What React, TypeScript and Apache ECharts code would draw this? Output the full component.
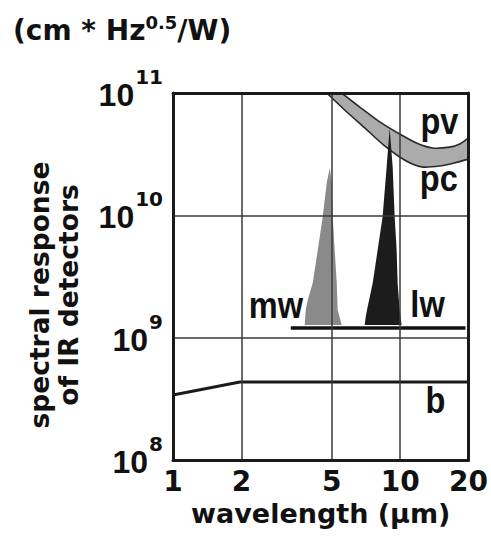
import { useEffect, useRef } from "react";
import * as echarts from "echarts";

// ---- data (wavelength in µm, detectivity in cm*Hz^0.5/W) ----
const xTickValues = [1, 2, 5, 10, 20];
const yTickValues = [1e8, 1e9, 1e10, 1e11];

// upper edge of the photovoltaic / photoconductive band
const pvUpper: number[][] = [
  [5.53, 1e11], [6.64, 7.68e10], [8.13, 5.8e10], [9.95, 4.62e10], [11.8, 3.9e10],
  [13.9, 3.55e10], [16.5, 3.61e10], [18.3, 3.83e10], [20, 4.29e10],
];
// lower edge of the band
const pcLower: number[][] = [
  [4.75, 1e11], [5.7, 7.26e10], [6.98, 5.18e10], [8.55, 3.69e10], [9.95, 3.0e10],
  [11.3, 2.63e10], [12.6, 2.48e10], [14.9, 2.53e10], [17.3, 2.68e10], [20, 2.88e10],
];
const mwPeak: number[][] = [
  [3.8, 1.27e9], [3.84, 1.68e9], [3.92, 2.03e9], [4.12, 2.79e9], [4.34, 5.2e9],
  [4.56, 9.7e9], [4.75, 1.84e10], [4.9, 2.44e10], [5.0, 1.84e10], [5.05, 9.7e9],
  [5.15, 5.2e9], [5.26, 2.79e9], [5.31, 1.68e9], [5.53, 1.27e9],
];
const lwPeak: number[][] = [
  [6.98, 1.27e9], [7.05, 1.47e9], [7.19, 1.78e9], [7.57, 2.79e9], [7.96, 5.2e9],
  [8.37, 9.7e9], [8.72, 2.48e10], [8.99, 5.18e10], [9.27, 2.48e10], [9.46, 9.7e9],
  [9.65, 5.2e9], [9.75, 2.79e9], [9.95, 1.68e9], [10.15, 1.27e9],
];
const detectorBaseline: number[][] = [[3.3, 1.2e9], [19.4, 1.2e9]];
const bLine: number[][] = [[1, 3.4e8], [1.97, 4.34e8], [20, 4.34e8]];

const labelNames = ["pv", "pc", "mw", "lw", "b"];
const labelX = [14.9, 14.8, 2.84, 13.2, 14.3];
const labelY = [5.9e10, 2.02e10, 1.85e9, 1.88e9, 3.09e8];

const HELV = "'Liberation Sans', Arial, sans-serif";
const WIDE = "'DejaVu Sans', sans-serif";
const INK = "#111111";

export default function App() {
  const ref = useRef<HTMLDivElement>(null);

  useEffect(() => {
    if (!ref.current) return;
    const chart = echarts.init(ref.current, undefined, { renderer: "svg" });

    const polygonSeries = (points: number[][], fill: string, z: number) => ({
      type: "custom",
      z,
      clip: true,
      silent: true,
      data: points,
      encode: { x: 0, y: 1 },
      renderItem: (params: any, api: any) => {
        if (params.dataIndex !== 0) return null;
        const pts = points.map((p) => api.coord(p));
        return { type: "polygon", shape: { points: pts }, style: { fill } };
      },
    });

    const frameAxis = {
      type: "log",
      logBase: 10,
      z: 10,
      axisLine: { show: true, onZero: false, lineStyle: { color: "#1a1a1a", width: 3 } },
      axisTick: { show: false },
      splitLine: { show: false },
      axisLabel: { show: false },
    };

    const option: any = {
      animation: false,
      backgroundColor: "#ffffff",
      title: {
        text: "{a|(cm * Hz}{s|0.5}{a|/W)}",
        left: 13,
        top: 14,
        padding: 0,
        textStyle: {
          rich: {
            a: { fontFamily: WIDE, fontWeight: "bold", fontSize: 28, lineHeight: 32, color: INK },
            s: { fontFamily: WIDE, fontWeight: "bold", fontSize: 18, lineHeight: 18, color: INK, padding: [0, 0, 16, 0] },
          },
        },
      },
      grid: { left: 173, top: 93, right: 22, bottom: 81 },
      xAxis: [
        {
          type: "log",
          logBase: 10,
          min: 1,
          max: 20,
          position: "bottom",
          z: 10,
          axisLine: { show: true, onZero: false, lineStyle: { color: "#1a1a1a", width: 3 } },
          axisTick: { show: false, customValues: xTickValues },
          splitLine: { show: true, lineStyle: { color: "#3a3a3a", width: 1.5 } },
          axisLabel: {
            customValues: xTickValues,
            margin: 7,
            showMinLabel: true,
            showMaxLabel: true,
            hideOverlap: false,
            formatter: (v: number) => String(Math.round(v)),
            fontFamily: WIDE,
            fontWeight: "bold",
            fontSize: 28,
            color: INK,
          },
          name: "wavelength (\u03bcm)",
          nameLocation: "middle",
          nameGap: 35,
          nameTextStyle: { fontFamily: WIDE, fontWeight: "bold", fontSize: 27, color: INK },
        },
        { ...frameAxis, min: 1, max: 20, position: "top" },
      ],
      yAxis: [
        {
          type: "log",
          logBase: 10,
          min: 1e8,
          max: 1e11,
          position: "left",
          z: 10,
          axisLine: { show: true, onZero: false, lineStyle: { color: "#1a1a1a", width: 3 } },
          axisTick: { show: false, customValues: yTickValues },
          splitLine: { show: true, lineStyle: { color: "#3a3a3a", width: 1.5 } },
          axisLabel: {
            customValues: yTickValues,
            margin: 10,
            showMinLabel: true,
            showMaxLabel: true,
            formatter: (v: number) => `{b|10}{s|${Math.round(Math.log10(v))}}`,
            rich: {
              b: { fontFamily: HELV, fontWeight: "bold", fontSize: 32, lineHeight: 34, color: INK, padding: [4, 1, 0, 0] },
              s: { fontFamily: WIDE, fontWeight: "bold", fontSize: 20, lineHeight: 20, color: INK, padding: [0, 0, 32, 0] },
            },
          },
        },
        { ...frameAxis, min: 1e8, max: 1e11, position: "right" },
      ],
      graphic: [
        {
          type: "text",
          x: 39,
          y: 295,
          rotation: Math.PI / 2,
          style: { text: "spectral response", fontFamily: WIDE, fontWeight: "bold", fontSize: 26.5, fill: INK, align: "center", verticalAlign: "middle" },
        },
        {
          type: "text",
          x: 68,
          y: 295,
          rotation: Math.PI / 2,
          style: { text: "of IR detectors", fontFamily: WIDE, fontWeight: "bold", fontSize: 26.5, fill: INK, align: "center", verticalAlign: "middle" },
        },
      ],
      series: [
        {
          type: "line",
          data: bLine,
          z: 3,
          symbol: "none",
          silent: true,
          lineStyle: { color: "#1a1a1a", width: 3 },
        },
        {
          type: "custom",
          z: 4,
          clip: true,
          silent: true,
          data: pvUpper.concat(pcLower),
          encode: { x: 0, y: 1 },
          renderItem: (params: any, api: any) => {
            if (params.dataIndex !== 0) return null;
            const up = pvUpper.map((p) => api.coord(p));
            const lo = pcLower.map((p) => api.coord(p));
            return {
              type: "group",
              children: [
                { type: "polygon", shape: { points: up.concat(lo.slice().reverse()) }, style: { fill: "#ababab" } },
                { type: "polyline", shape: { points: up, smooth: 0.25 }, style: { stroke: "#2a2a2a", lineWidth: 1.6, fill: null } },
                { type: "polyline", shape: { points: lo, smooth: 0.25 }, style: { stroke: "#2a2a2a", lineWidth: 1.6, fill: null } },
              ],
            };
          },
        },
        polygonSeries(mwPeak, "#8a8a8a", 5),
        polygonSeries(lwPeak, "#1c1c1c", 6),
        {
          type: "line",
          data: detectorBaseline,
          z: 7,
          symbol: "none",
          silent: true,
          lineStyle: { color: "#111111", width: 3.5 },
        },
        {
          type: "custom",
          z: 8,
          silent: true,
          data: labelNames.map((_, i) => [labelX[i], labelY[i]]),
          encode: { x: 0, y: 1 },
          renderItem: (params: any, api: any) => {
            const c = api.coord([api.value(0), api.value(1)]);
            return {
              type: "text",
              x: c[0],
              y: c[1],
              scaleX: 0.88,
              style: {
                text: labelNames[params.dataIndex],
                fontFamily: HELV,
                fontWeight: "bold",
                fontSize: 37,
                fill: INK,
                align: "center",
                verticalAlign: "middle",
              },
            };
          },
        },
      ],
    };

    chart.setOption(option);
    return () => chart.dispose();
  }, []);

  return <div ref={ref} style={{ width: 491, height: 541, position: "absolute", left: 0, top: 0 }} />;
}
